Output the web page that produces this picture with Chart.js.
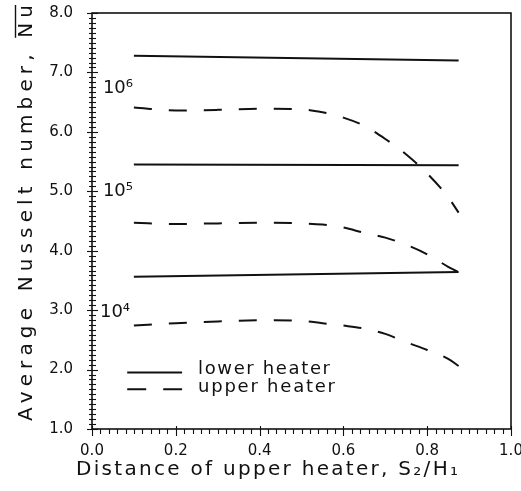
<!DOCTYPE html>
<html><head><meta charset="utf-8">
<script src="https://cdn.jsdelivr.net/npm/chart.js@4.4.1/dist/chart.umd.min.js"></script>
<style>html,body{margin:0;padding:0;background:#fff;}#wrap{width:521px;height:491px;position:relative;}</style>
</head><body><div id="wrap"><canvas id="c"></canvas></div>
<script>
// ---- data ----
const upperX     = [0.1, 0.2, 0.3, 0.4, 0.5, 0.55, 0.6, 0.65, 0.7, 0.75, 0.8, 0.85, 0.875];
const upperRa1e6 = [6.41, 6.36, 6.37, 6.39, 6.38, 6.33, 6.24, 6.10, 5.88, 5.62, 5.30, 4.90, 4.64];
const upperRa1e5 = [4.47, 4.45, 4.46, 4.47, 4.46, 4.44, 4.39, 4.30, 4.22, 4.10, 3.94, 3.73, 3.64];
const upperRa1e4 = [2.74, 2.78, 2.81, 2.83, 2.82, 2.78, 2.74, 2.69, 2.60, 2.46, 2.33, 2.18, 2.06];
const lowerX     = [0.1, 0.875];
const lowerRa1e6 = [7.28, 7.20];
const lowerRa1e5 = [5.45, 5.44];
const lowerRa1e4 = [3.56, 3.64];
const raLabels   = ['10⁶', '10⁵', '10⁴'];
const xTicks     = [0.0, 0.2, 0.4, 0.6, 0.8, 1.0];
const yTicks     = [1.0, 2.0, 3.0, 4.0, 5.0, 6.0, 7.0, 8.0];
const legendLabels = ['lower heater', 'upper heater'];
const xTitle = 'Distance of upper heater, S₂/H₁';
const yTitle = 'Average Nusselt number, ';
const yTitleSym = 'Nu';

const FONT = '"DejaVu Sans", sans-serif';
const pts = (xs, ys) => xs.map((x, i) => ({x, y: ys[i]}));

function spacedText(ctx, text, x, y, width) {
  ctx.letterSpacing = '0px';
  const n = [...text].length;
  const m = ctx.measureText(text).width;
  const sp = n > 1 ? (width - m) / (n - 1) : 0;
  ctx.letterSpacing = sp + 'px';
  ctx.textAlign = 'left';
  ctx.fillText(text, x, y);
  const w = ctx.measureText(text).width;
  ctx.letterSpacing = '0px';
  return {sp, w};
}

const decor = {
  id: 'decor',
  afterDraw(chart) {
    const {ctx, chartArea: a, scales: {x, y}} = chart;
    ctx.save();
    ctx.strokeStyle = '#111';
    ctx.fillStyle = '#111';
    // frame
    ctx.lineWidth = 1.6;
    ctx.strokeRect(a.left, a.top, a.right - a.left, a.bottom - a.top);
    // minor ticks left axis
    ctx.lineWidth = 1.1;
    for (let k = 0; k <= 84; k++) {
      const v = 1 + k / 12;
      const py = Math.round(y.getPixelForValue(v)) + 0.5;
      const major = k % 12 === 0;
      ctx.beginPath();
      ctx.moveTo(a.left - (major ? 5 : 3), py);
      ctx.lineTo(a.left + (major ? 6 : 4), py);
      ctx.stroke();
    }
    // minor ticks bottom axis
    for (let k = 0; k <= 50; k++) {
      const v = k / 50;
      const px = Math.round(x.getPixelForValue(v)) + 0.5;
      const major = k % 10 === 0;
      ctx.beginPath();
      ctx.moveTo(px, a.bottom - (major ? 3 : 0));
      ctx.lineTo(px, a.bottom + (major ? 7 : 5));
      ctx.stroke();
    }
    // Rayleigh labels
    ctx.font = '18px ' + FONT;
    ctx.textBaseline = 'middle';
    const raPos = [[0.026, 6.74], [0.026, 5.0], [0.019, 2.96]];
    raLabels.forEach((t, i) => {
      ctx.textAlign = 'left';
      ctx.fillText(t, x.getPixelForValue(raPos[i][0]), y.getPixelForValue(raPos[i][1]));
    });
    // legend
    ctx.lineWidth = 2;
    const ly1 = y.getPixelForValue(1.95), ly2 = y.getPixelForValue(1.67);
    const lx0 = x.getPixelForValue(0.084), lx1 = x.getPixelForValue(0.215);
    ctx.beginPath(); ctx.moveTo(lx0, ly1); ctx.lineTo(lx1, ly1); ctx.stroke();
    ctx.setLineDash([19, 17]);
    ctx.beginPath(); ctx.moveTo(lx0, ly2); ctx.lineTo(lx1, ly2); ctx.stroke();
    ctx.setLineDash([]);
    ctx.font = '18px ' + FONT;
    ctx.textBaseline = 'middle';
    spacedText(ctx, legendLabels[0], x.getPixelForValue(0.253), ly1 - 3, 132);
    spacedText(ctx, legendLabels[1], x.getPixelForValue(0.253), ly2 - 2, 137);
    // x title
    ctx.font = '20px ' + FONT;
    ctx.textBaseline = 'middle';
    spacedText(ctx, xTitle, 76, 470, 382);
    // y title (rotated)
    ctx.save();
    ctx.translate(27, 213);
    ctx.rotate(-Math.PI / 2);
    ctx.font = '20px ' + FONT;
    const full = yTitle + yTitleSym;
    const r = spacedText(ctx, full, -208, 0, 416);
    ctx.letterSpacing = r.sp + 'px';
    const pre = ctx.measureText(yTitle).width;
    ctx.letterSpacing = '0px';
    ctx.lineWidth = 1.4;
    ctx.beginPath();
    ctx.moveTo(-208 + pre, -11.5);
    ctx.lineTo(208, -11.5);
    ctx.stroke();
    ctx.restore();
    ctx.restore();
  }
};

const solid = (data) => ({data, borderColor: '#111', borderWidth: 2, pointRadius: 0, fill: false, tension: 0});
const dashed = (data) => ({data, borderColor: '#111', borderWidth: 2, borderDash: [18, 17], pointRadius: 0, fill: false, cubicInterpolationMode: 'monotone'});

new Chart(document.getElementById('c'), {
  type: 'line',
  data: {
    datasets: [
      solid(pts(lowerX, lowerRa1e6)),
      dashed(pts(upperX, upperRa1e6)),
      solid(pts(lowerX, lowerRa1e5)),
      dashed(pts(upperX, upperRa1e5)),
      solid(pts(lowerX, lowerRa1e4)),
      dashed(pts(upperX, upperRa1e4)),
    ]
  },
  options: {
    responsive: true,
    maintainAspectRatio: false,
    animation: false,
    layout: {padding: {left: 0, right: 10, top: 13, bottom: 0}},
    plugins: {legend: {display: false}, tooltip: {enabled: false}},
    scales: {
      x: {
        type: 'linear', min: 0, max: 1,
        afterBuildTicks: (s) => { s.ticks = xTicks.map(v => ({value: v})); },
        ticks: {color: '#111', font: {family: FONT, size: 15}, padding: 13, maxRotation: 0,
                callback: (v) => Number(v).toFixed(1)},
        grid: {display: false, drawTicks: false},
        border: {display: false},
        afterFit: (s) => { s.height = 62; s.paddingLeft = 0; s.paddingRight = 0; }
      },
      y: {
        type: 'linear', min: 1, max: 8,
        afterBuildTicks: (s) => { s.ticks = yTicks.map(v => ({value: v})); },
        ticks: {color: '#111', font: {family: FONT, size: 15}, padding: 19,
                callback: (v) => Number(v).toFixed(1)},
        grid: {display: false, drawTicks: false},
        border: {display: false},
        afterFit: (s) => { s.width = 92; s.paddingTop = 0; s.paddingBottom = 0; }
      }
    }
  },
  plugins: [decor]
});
</script>
</body></html>
